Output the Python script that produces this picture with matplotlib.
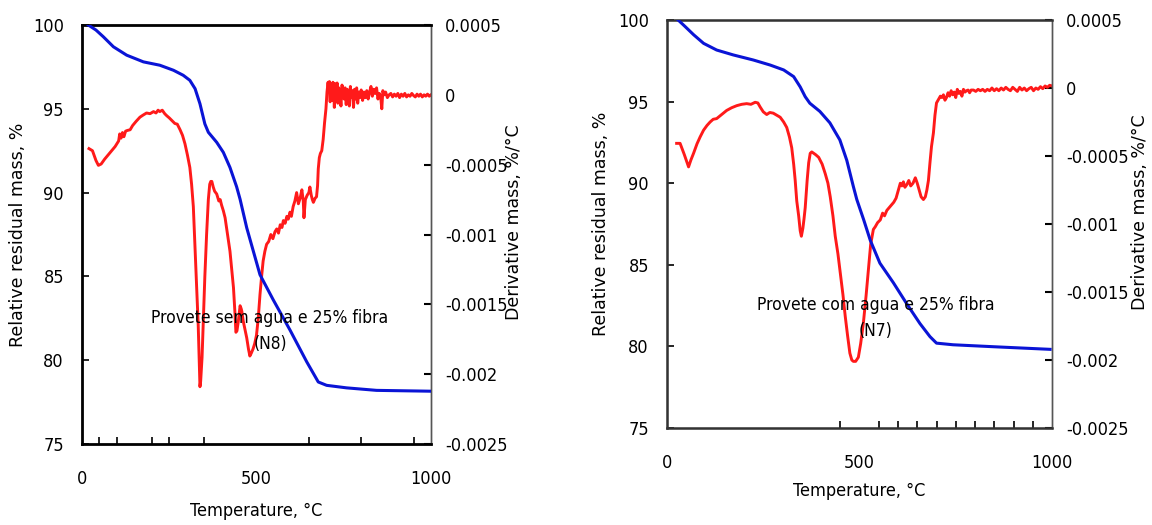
import numpy as np
import matplotlib
matplotlib.use("Agg")
import matplotlib.pyplot as plt
from matplotlib import font_manager

# ---------------- data ----------------
temp_ticks = [0, 500, 1000]
mass_ticks = [75, 80, 85, 90, 95, 100]
deriv_ticks = [0.0005, 0.0, -0.0005, -0.001, -0.0015, -0.002, -0.0025]
deriv_ticklabels = ["0.0005", "0", "-0.0005", "-0.001", "-0.0015", "-0.002", "-0.0025"]

# N8 (left) - thermogravimetric curve
tg_n8_T = [18, 40, 61, 90, 128, 176, 223, 262, 290, 309, 324, 338, 352, 362, 386, 405,
           424, 443, 453, 472, 510, 548, 596, 644, 677, 701, 758, 844, 1000]
tg_n8_m = [100, 99.7, 99.3, 98.7, 98.2, 97.8, 97.6, 97.3, 97.0, 96.7, 96.2, 95.3, 94.1,
           93.6, 93.0, 92.4, 91.5, 90.35, 89.6, 87.9, 85.1, 83.6, 81.8, 79.9, 78.7, 78.5,
           78.35, 78.2, 78.15]

# N8 (left) - derivative curve (values x 1e-4 %/°C)
dtg_n8_T = [20, 30, 40, 47, 55, 65, 75, 85, 95, 100, 105, 108, 112, 116, 120, 125, 130,
            138, 145, 155, 166, 175, 185, 195, 205, 212, 218, 223, 230, 237, 243, 250,
            258, 266, 273, 281, 288, 295, 302, 309, 314, 319, 324, 329, 333, 336, 338,
            340, 344, 348, 352, 357, 362, 366, 369, 372, 376, 380, 386, 392, 396, 400,
            405, 410, 417, 424, 430, 434, 438, 441, 444, 448, 453, 456, 458, 462, 467,
            472, 477, 481, 485, 490, 495, 500, 505, 510, 515, 519, 524, 529, 535, 541,
            547, 553, 558, 563, 568, 573, 577, 582, 587, 591, 596, 600, 605, 610, 615,
            620, 625, 630, 634, 636, 640, 645, 650, 653, 657, 660, 663, 668, 672, 675,
            677, 680, 683, 687, 691, 695, 699, 702, 705, 707, 709, 711, 713, 715, 717,
            719, 721, 723, 725, 728, 731, 733, 736, 739, 742, 745, 748, 751, 754, 757,
            760, 763, 766, 769, 772, 775, 778, 781, 784, 787, 790, 793, 796, 800, 804,
            808, 812, 816, 820, 824, 828, 832, 836, 840, 844, 848, 852, 856, 859, 862,
            866, 870, 875, 880, 885, 890, 895, 900, 905, 910, 915, 920, 925, 930, 935,
            940, 945, 950, 955, 960, 965, 970, 975, 980, 985, 990, 995, 1000]
dtg_n8_d = [-3.85, -4.0, -4.7, -5.05, -4.95, -4.6, -4.3, -4.0, -3.7, -3.5, -3.3, -2.8,
            -3.1, -2.7, -3.0, -2.6, -2.55, -2.5, -2.2, -1.9, -1.6, -1.45, -1.3, -1.35,
            -1.2, -1.3, -1.1, -1.2, -1.1, -1.35, -1.5, -1.65, -1.85, -2.05, -2.1, -2.5,
            -2.9, -3.5, -4.3, -5.2, -6.4, -8.0, -11.0, -14.0, -16.5, -19.3, -20.9, -20.5,
            -18.8, -16.0, -13.0, -10.0, -7.5, -6.4, -6.2, -6.2, -6.6, -6.9, -7.1, -7.6,
            -7.5, -7.9, -8.3, -8.8, -10.0, -11.2, -12.8, -13.8, -15.5, -17.0, -16.9,
            -16.2, -15.1, -15.3, -15.5, -16.2, -16.8, -17.4, -18.2, -18.7, -18.5, -18.2,
            -17.8, -17.2, -16.0, -14.3, -12.9, -11.9, -11.2, -10.7, -10.5, -10.0, -10.3,
            -9.8, -9.6, -9.9, -9.3, -9.5, -9.0, -9.2, -8.7, -8.9, -8.4, -8.7, -8.0, -7.6,
            -7.0, -7.8, -7.4, -6.8, -7.6, -8.8, -7.5, -7.2, -7.0, -6.6, -7.2, -7.5, -7.7,
            -7.4, -7.3, -6.5, -5.3, -4.5, -4.2, -4.0, -3.2, -2.0, -1.0, 0.2, 0.9, 0.3,
            0.95, -0.5, 0.8, 0.6, -0.4, 0.9, 0.7, -0.9, 0.8, 0.2, 0.85, -0.6, 0.5, 0.1,
            -0.8, 0.7, 0.3, -0.3, 0.5, -0.7, 0.4, 0.1, -0.8, 0.6, -0.2, 0.3, -0.9, 0.4,
            -0.3, 0.5, -0.6, 0.2, -0.2, 0.35, -0.4, 0.2, -0.2, 0.3, -0.3, 0.2, 0.6, -0.1,
            0.4, 0.1, 0.5, -0.3, 0.1, -0.2, -1.0, 0.3, 0.0, 0.2, -0.2, 0.0, 0.1, -0.15,
            0.05, -0.1, 0.1, -0.2, 0.05, -0.1, 0.1, -0.15, 0.0, -0.1, 0.1, -0.05, -0.15,
            0.05, -0.1, 0.05, -0.15, 0.0, -0.1, 0.05, -0.1, 0.0]

# N7 (right) - thermogravimetric curve
tg_n7_T = [29, 47, 69, 95, 129, 172, 224, 268, 303, 329, 346, 359, 371, 397, 423, 449,
           467, 484, 493, 511, 528, 553, 588, 623, 657, 683, 700, 743, 848, 995]
tg_n7_m = [100, 99.6, 99.1, 98.57, 98.16, 97.86, 97.55, 97.24, 96.94, 96.53, 95.9, 95.3,
           94.9, 94.4, 93.7, 92.65, 91.4, 89.8, 89.0, 87.75, 86.5, 85.1, 83.9, 82.6, 81.4,
           80.6, 80.2, 80.1, 79.98, 79.82]

# N7 (right) - derivative curve (values x 1e-4 %/°C)
dtg_n7_T = [25, 34, 45, 56, 62, 69, 78, 86, 95, 104, 112, 120, 129, 140, 155, 168, 181,
            194, 207, 218, 229, 236, 242, 250, 259, 267, 276, 285, 294, 303, 311, 318,
            324, 329, 333, 337, 342, 346, 349, 353, 356, 359, 364, 368, 372, 376, 381,
            386, 394, 403, 411, 418, 424, 431, 437, 444, 450, 457, 463, 469, 475, 480,
            484, 490, 497, 503, 510, 517, 523, 529, 536, 541, 547, 554, 560, 565, 571,
            577, 583, 589, 595, 600, 606, 610, 614, 618, 623, 628, 633, 639, 645, 650,
            655, 660, 666, 671, 675, 679, 683, 687, 692, 696, 700, 705, 710, 714, 718,
            722, 726, 730, 734, 738, 742, 746, 750, 754, 758, 762, 766, 770, 774, 778,
            782, 786, 790, 796, 802, 808, 814, 820, 826, 832, 838, 844, 850, 856, 862,
            868, 874, 880, 886, 892, 898, 904, 910, 916, 922, 928, 934, 940, 946, 952,
            958, 964, 970, 976, 982, 988, 994, 1000]
dtg_n7_d = [-4.07, -4.07, -4.9, -5.8, -5.3, -4.8, -4.1, -3.6, -3.1, -2.75, -2.5, -2.3,
            -2.25, -2.0, -1.65, -1.45, -1.3, -1.2, -1.15, -1.2, -1.05, -1.1, -1.4, -1.75,
            -1.95, -1.8, -1.85, -2.0, -2.15, -2.5, -2.9, -3.6, -4.4, -5.6, -6.8, -8.3,
            -9.4, -10.5, -10.9, -10.3, -9.6, -8.8, -6.8, -5.5, -4.8, -4.7, -4.8, -4.9,
            -5.1, -5.6, -6.3, -7.0, -8.0, -9.4, -10.9, -12.2, -13.6, -15.2, -16.8, -18.2,
            -19.5, -20.0, -20.1, -20.1, -19.8, -18.8, -17.3, -15.3, -13.4, -11.5, -10.4,
            -10.2, -9.9, -9.7, -9.2, -9.4, -9.0, -8.8, -8.6, -8.4, -8.1, -7.6, -7.0, -7.2,
            -6.9, -7.3, -7.1, -6.8, -7.2, -7.0, -6.6, -7.0, -7.5, -8.0, -8.2, -8.0, -7.5,
            -6.8, -5.5, -4.3, -3.3, -2.0, -1.1, -0.85, -0.6, -0.7, -0.5, -0.9, -0.7,
            -0.35, -0.6, -0.2, -0.5, -0.3, -0.7, -0.1, -0.4, -0.25, -0.6, -0.1, -0.3,
            -0.2, -0.15, -0.35, -0.15, -0.15, -0.25, -0.1, -0.2, -0.1, -0.25, -0.1, -0.2,
            0.0, -0.2, -0.05, -0.2, 0.0, -0.15, 0.05, -0.1, -0.2, 0.05, -0.1, -0.25,
            0.05, -0.15, 0.0, -0.2, -0.05, 0.05, -0.2, 0.0, -0.1, 0.1, -0.05, 0.15, 0.05,
            0.2, 0.15]

panel_notes = ["Provete sem agua e 25% fibra\n(N8)", "Provete com agua e 25% fibra\n(N7)"]
xlabel = "Temperature, °C"
ylabel_left = "Relative residual mass, %"
ylabel_right = "Derivative mass, %/°C"

# ---------------- style ----------------
def find_condensed():
    prefs = ["DejaVuSansCondensed.ttf", "LiberationSansNarrow-Regular.ttf",
             "RobotoCondensed-Regular.ttf", "OpenSans_Condensed-Regular.ttf",
             "OpenSansCondensed-Light.ttf"]
    files = set(font_manager.findSystemFonts()) | {f.fname for f in font_manager.fontManager.ttflist}
    by_base = {}
    for f in files:
        by_base.setdefault(f.split("/")[-1], f)
    for p in prefs:
        if p in by_base:
            return font_manager.FontProperties(fname=by_base[p]), True
    for base, f in sorted(by_base.items()):
        b = base.lower()
        if ("condensed" in b or "narrow" in b) and "bold" not in b and "italic" not in b \
                and "oblique" not in b and "light" not in b and "mono" not in b \
                and "serif" not in b and b.endswith((".ttf", ".otf")):
            return font_manager.FontProperties(fname=f), True
    return font_manager.FontProperties(family="DejaVu Sans"), False


NUMFP, IS_COND = find_condensed()
num_size = 13 if IS_COND else 12
note_size = 12.5 if IS_COND else 11.5
plt.rcParams["font.family"] = ["DejaVu Sans"]


def nfp(size):
    fp = NUMFP.copy()
    fp.set_size(size)
    return fp


RED = "#ff1a1a"
BLUE = "#0a14d6"
W, H = 1152, 525
fig = plt.figure(figsize=(W / 100, H / 100), dpi=100)


def px_axes(x0, x1, y0, y1):
    return fig.add_axes([x0 / W, 1 - y1 / H, (x1 - x0) / W, (y1 - y0) / H])


panels = [
    dict(box=(82, 431, 25, 444), tgT=tg_n8_T, tgm=tg_n8_m, dT=dtg_n8_T, dd=dtg_n8_d,
         note=panel_notes[0], note_xy=(270, 331), xl_y=511, yl_x=18, yr_x=514,
         minor=[50, 100, 200, 250, 350, 500, 650, 800, 950]),
    dict(box=(667, 1052, 20, 428), tgT=tg_n7_T, tgm=tg_n7_m, dT=dtg_n7_T, dd=dtg_n7_d,
         note=panel_notes[1], note_xy=(876, 318), xl_y=491, yl_x=601, yr_x=1140,
         minor=[450, 550, 600, 650, 700, 750, 800, 850, 900, 950]),
]

for i, p in enumerate(panels):
    x0, x1, y0, y1 = p["box"]
    ax = px_axes(x0, x1, y0, y1)
    ax2 = ax.twinx()
    ax.set_zorder(ax2.get_zorder() + 1)
    ax.patch.set_visible(False)

    ax2.plot(p["dT"], np.array(p["dd"]) * 1e-4, color=RED, lw=2.1, zorder=2)
    ax.plot(p["tgT"], p["tgm"], color=BLUE, lw=2.2, zorder=3)

    ax.set_xlim(0, 1000)
    ax.set_ylim(75, 100)
    ax2.set_ylim(-0.0025, 0.0005)

    ax.set_xticks(temp_ticks)
    ax.set_xticklabels([str(t) for t in temp_ticks], fontproperties=nfp(num_size))
    ax.set_xticks(p["minor"], minor=True)
    ax.set_yticks(mass_ticks)
    ax.set_yticklabels([str(t) for t in mass_ticks], fontproperties=nfp(num_size))
    ax2.set_yticks(deriv_ticks)
    ax2.set_yticklabels(deriv_ticklabels, fontproperties=nfp(num_size))

    ax.tick_params(axis="x", which="major", direction="in", length=0, pad=19)
    ax.tick_params(axis="x", which="minor", direction="in", length=5, width=1.2, color="black")
    ax.tick_params(axis="y", direction="in", length=5, width=1.2, pad=13)
    ax2.tick_params(axis="y", direction="in", length=5, width=1.5, pad=10)

    for side in ["top", "left", "bottom"]:
        ax.spines[side].set_linewidth(2.0 if i == 0 else 1.8)
        ax.spines[side].set_color("black" if i == 0 else "#333333")
    for a in (ax, ax2):
        a.spines["right"].set_linewidth(1.0)
        a.spines["right"].set_color("#555555")

    ax.set_xlabel(xlabel, fontproperties=nfp(num_size), va="center")
    ax.xaxis.set_label_coords(0.5, -(p["xl_y"] - y1) / (y1 - y0))
    ax.set_ylabel(ylabel_left, fontsize=12.5, va="center")
    ax.yaxis.set_label_coords((p["yl_x"] - x0) / (x1 - x0), 0.5)
    ax2.set_ylabel(ylabel_right, fontsize=12.5, va="center", rotation=90)
    ax2.yaxis.set_label_coords((p["yr_x"] - x0) / (x1 - x0), 0.53)

    nx, ny = p["note_xy"]
    fig.text(nx / W, 1 - ny / H, p["note"], ha="center", va="center",
             fontproperties=nfp(note_size), linespacing=1.6, zorder=10)

fig.savefig("out.png", dpi=100)
